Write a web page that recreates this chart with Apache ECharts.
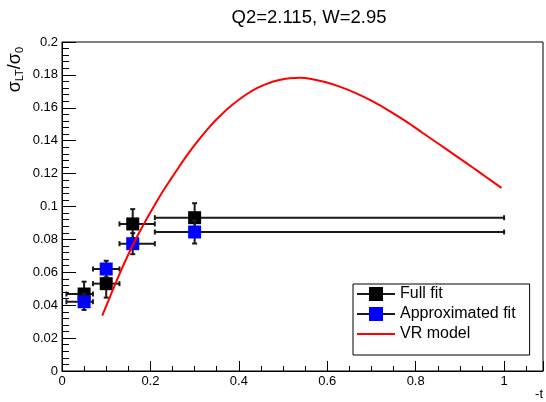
<!DOCTYPE html>
<html>
<head>
<meta charset="utf-8">
<script src="https://cdn.jsdelivr.net/npm/echarts@6/dist/echarts.min.js"></script>
<style>html,body{margin:0;padding:0;background:#fff;}#c{width:546px;height:402px;}</style>
</head>
<body>
<div id="c"></div>
<script>
// -t bin centres and bin edges
var tCenters = [0.05, 0.10, 0.16, 0.30];
var tLow = [0.01, 0.07, 0.13, 0.21];
var tHigh = [0.07, 0.13, 0.21, 1.00];
// Full fit
var fullY = [0.0468, 0.0531, 0.0894, 0.0932];
var fullErr = [0.0075, 0.0085, 0.0090, 0.0088];
// Approximated fit
var approxY = [0.0421, 0.0620, 0.0774, 0.0845];
var approxErr = [0.0050, 0.0050, 0.0064, 0.0070];
// VR model curve
var vrT = [0.091, 0.11, 0.13, 0.151, 0.17, 0.189, 0.208, 0.2264, 0.245, 0.265, 0.285, 0.307, 0.328, 0.346, 0.365, 0.384, 0.403, 0.422, 0.441, 0.46, 0.478, 0.497, 0.516, 0.538, 0.561, 0.595, 0.628, 0.666, 0.704, 0.741, 0.779, 0.816, 0.854, 0.891, 0.929, 0.96, 0.994];
var vrY = [0.0336, 0.0461, 0.0589, 0.0714, 0.0818, 0.0912, 0.1001, 0.1085, 0.1162, 0.1242, 0.1320, 0.1398, 0.1466, 0.1520, 0.1570, 0.1615, 0.1655, 0.1690, 0.1719, 0.1742, 0.1760, 0.1772, 0.1779, 0.1782, 0.1777, 0.1757, 0.1729, 0.1688, 0.1637, 0.1580, 0.1516, 0.1447, 0.1377, 0.1308, 0.1237, 0.1178, 0.1113];
// axis ticks
var xTicks = ['0', '0.2', '0.4', '0.6', '0.8', '1'];
var yTicks = ['0', '0.02', '0.04', '0.06', '0.08', '0.1', '0.12', '0.14', '0.16', '0.18', '0.2'];

var FONT = 'Liberation Sans, Arial, Helvetica, sans-serif';

function errData(ys, errs) {
  return tCenters.map(function (t, i) {
    return [t, ys[i], tLow[i], tHigh[i], ys[i] - errs[i], ys[i] + errs[i]];
  });
}
function renderErr(params, api) {
  var x = api.value(0), y = api.value(1);
  var c = api.coord([x, y]);
  var l = api.coord([api.value(2), y]);
  var r = api.coord([api.value(3), y]);
  var b = api.coord([x, api.value(4)]);
  var t = api.coord([x, api.value(5)]);
  var st = { stroke: '#1a1a1a', lineWidth: 2 };
  var cap = 2.5;
  return {
    type: 'group',
    children: [
      { type: 'line', shape: { x1: l[0], y1: c[1], x2: r[0], y2: c[1] }, style: st },
      { type: 'line', shape: { x1: l[0], y1: c[1] - cap, x2: l[0], y2: c[1] + cap }, style: st },
      { type: 'line', shape: { x1: r[0], y1: c[1] - cap, x2: r[0], y2: c[1] + cap }, style: st },
      { type: 'line', shape: { x1: c[0], y1: b[1], x2: c[0], y2: t[1] }, style: st },
      { type: 'line', shape: { x1: c[0] - cap, y1: b[1], x2: c[0] + cap, y2: b[1] }, style: st },
      { type: 'line', shape: { x1: c[0] - cap, y1: t[1], x2: c[0] + cap, y2: t[1] }, style: st }
    ]
  };
}

var chart = echarts.init(document.getElementById('c'), null, { renderer: 'canvas' });
var squareIcon = 'path://M0,0 L14,0 L14,14 L0,14 Z';
chart.setOption({
  animation: false,
  backgroundColor: '#fff',
  textStyle: { fontFamily: FONT },
  title: {
    text: 'Q2=2.115, W=2.95',
    left: 304, top: 3, textAlign: 'center',
    textStyle: { fontFamily: FONT, fontSize: 18.5, fontWeight: 'normal', color: '#000' }
  },
  grid: { left: 62, top: 42, right: 2, bottom: 31, show: true, borderColor: '#000', borderWidth: 1, backgroundColor: 'transparent' },
  legend: {
    orient: 'vertical', left: 353, top: 284,
    padding: [2, 14, 13, 4],
    itemWidth: 38, itemHeight: 14, itemGap: 4,
    selectedMode: false,
    borderColor: '#000', borderWidth: 1,
    textStyle: { fontFamily: FONT, fontSize: 16, color: '#000', lineHeight: 16 },
    data: [
      { name: 'Full fit', icon: squareIcon },
      { name: 'Approximated fit', icon: squareIcon },
      { name: 'VR model', icon: 'path://M0,0 L38,0 L38,2 L0,2 Z' }
    ]
  },
  graphic: [
    { type: 'line', z: 1, shape: { x1: 357, y1: 294, x2: 395, y2: 294 }, style: { stroke: '#1a1a1a', lineWidth: 2 } },
    { type: 'line', z: 1, shape: { x1: 357, y1: 314, x2: 395, y2: 314 }, style: { stroke: '#1a1a1a', lineWidth: 2 } }
  ],
  xAxis: {
    type: 'value', min: 0, max: 1.088, interval: 0.2,
    name: '-t', nameLocation: 'end', nameGap: 0,
    nameTextStyle: { fontFamily: FONT, fontSize: 13, color: '#000', align: 'right', verticalAlign: 'top', padding: [17, 0, 0, 0] },
    axisLine: { show: true, onZero: false, lineStyle: { color: '#000', width: 1 } },
    axisTick: { show: true, inside: true, length: 10, lineStyle: { color: '#000' } },
    minorTick: { show: true, splitNumber: 4, length: 5, lineStyle: { color: '#000' } },
    splitLine: { show: false },
    axisLabel: {
      showMaxLabel: false, margin: 4, fontFamily: FONT, fontSize: 13, color: '#000',
      formatter: function (v) { var i = Math.round(v / 0.2); return xTicks[i] !== undefined ? xTicks[i] : ''; }
    }
  },
  yAxis: {
    type: 'value', min: 0, max: 0.2, interval: 0.02,
    name: '{a|σ}{s|LT}{a|/σ}{s|0}', nameLocation: 'end', nameGap: 0, nameRotate: 90,
    nameTextStyle: {
      fontFamily: FONT, color: '#000', align: 'right', verticalAlign: 'bottom', padding: [0, 5, 37, 0],
      rich: {
        a: { fontFamily: FONT, fontSize: 18, color: '#000' },
        s: { fontFamily: FONT, fontSize: 11, color: '#000', padding: [9, 0, 0, 0] }
      }
    },
    axisLine: { show: true, onZero: false, lineStyle: { color: '#000', width: 1 } },
    axisTick: { show: true, inside: true, length: 14, lineStyle: { color: '#000' } },
    minorTick: { show: true, splitNumber: 5, length: 7, lineStyle: { color: '#000' } },
    splitLine: { show: false },
    axisLabel: {
      margin: 4, fontFamily: FONT, fontSize: 13, color: '#000',
      formatter: function (v) { var i = Math.round(v / 0.02); return yTicks[i] !== undefined ? yTicks[i] : ''; }
    }
  },
  series: [
    { name: 'Full fit errors', type: 'custom', z: 2, renderItem: renderErr, data: errData(fullY, fullErr), encode: { x: [0, 2, 3], y: [1, 4, 5] } },
    { name: 'Full fit', type: 'scatter', z: 3, symbol: 'rect', symbolSize: 13, itemStyle: { color: '#000', opacity: 1 },
      data: tCenters.map(function (t, i) { return [t, fullY[i]]; }) },
    { name: 'Approx errors', type: 'custom', z: 4, renderItem: renderErr, data: errData(approxY, approxErr), encode: { x: [0, 2, 3], y: [1, 4, 5] } },
    { name: 'Approximated fit', type: 'scatter', z: 5, symbol: 'rect', symbolSize: 13, itemStyle: { color: '#0000ff', opacity: 1 },
      data: tCenters.map(function (t, i) { return [t, approxY[i]]; }) },
    { name: 'VR model', type: 'line', z: 6, smooth: 0.3, showSymbol: false, symbol: 'none',
      lineStyle: { color: '#ff0000', width: 2 }, itemStyle: { color: '#ff0000' },
      data: vrT.map(function (t, i) { return [t, vrY[i]]; }) }
  ]
});
</script>
</body>
</html>
